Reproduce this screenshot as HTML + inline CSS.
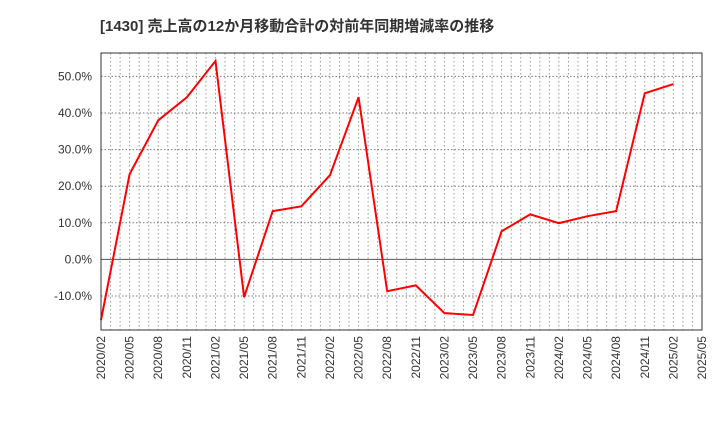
<!DOCTYPE html>
<html><head><meta charset="utf-8"><style>
body{margin:0;background:#fff;}
text{font-family:"Liberation Sans","Noto Sans CJK JP",sans-serif;}
</style></head><body>
<svg id="chart" width="720" height="440" xmlns="http://www.w3.org/2000/svg">
<text x="100" y="31" font-size="15" font-weight="bold" fill="#333">[1430]  売上高の12か月移動合計の対前年同期増減率の推移</text>
<g id="grid"></g><g id="axes"></g>
<polyline id="line" fill="none" stroke="#f00" stroke-width="2"/>
<rect x="101" y="53" width="601" height="277" fill="none" stroke="#333" stroke-width="1"/>
</svg>
<script>
const categories=["2020/02","2020/05","2020/08","2020/11","2021/02","2021/05","2021/08","2021/11","2022/02","2022/05","2022/08","2022/11","2023/02","2023/05","2023/08","2023/11","2024/02","2024/05","2024/08","2024/11","2025/02"];
const values=[-16.6,23.3,38.0,44.3,54.2,-10.3,13.2,14.5,23.0,44.3,-8.7,-7.1,-14.7,-15.2,7.7,12.3,9.9,11.8,13.2,45.4,47.9];
const xTickLabels=["2020/02","2020/05","2020/08","2020/11","2021/02","2021/05","2021/08","2021/11","2022/02","2022/05","2022/08","2022/11","2023/02","2023/05","2023/08","2023/11","2024/02","2024/05","2024/08","2024/11","2025/02","2025/05"];
const yTicks=[-10,0,10,20,30,40,50];
const L=101,R=702,T=53,B=330,yMin=-19.3,yMax=56.4;
const nQ=xTickLabels.length-1;
const xs=i=>L+(R-L)*i/nQ;
const ys=v=>B-(v-yMin)/(yMax-yMin)*(B-T);
const ns="http://www.w3.org/2000/svg";
const grid=document.getElementById('grid'),axes=document.getElementById('axes');
function mk(tag,a,p){const e=document.createElementNS(ns,tag);for(const k in a)e.setAttribute(k,a[k]);p.appendChild(e);return e;}
for(let m=1;m<nQ*3;m++){const x=L+(R-L)*m/(nQ*3);
const l=mk('line',{x1:x,x2:x,y1:T,y2:B,stroke:'#999','stroke-dasharray':'1.5,2.5','stroke-width':1},grid);

}
yTicks.forEach(v=>{const y=ys(v);
const l=mk('line',{x1:L,x2:R,y1:y,y2:y,stroke:v===0?'#555':'#777','stroke-dasharray':v===0?'none':'1.5,2','stroke-width':1},grid);


const t=mk('text',{x:92,y:y+4,'font-size':12,'text-anchor':'end',fill:'#333'},axes);t.textContent=v.toFixed(1)+'%';

});
xTickLabels.forEach((s,i)=>{const x=xs(i);
const t=mk('text',{x:0,y:0,'font-size':12,'text-anchor':'end',fill:'#333',transform:`translate(${x+4},336) rotate(-90)`},axes);t.textContent=s;

});
document.getElementById('line').setAttribute('points',values.map((v,i)=>xs(i)+','+ys(v)).join(' '));
</script>
</body></html>
